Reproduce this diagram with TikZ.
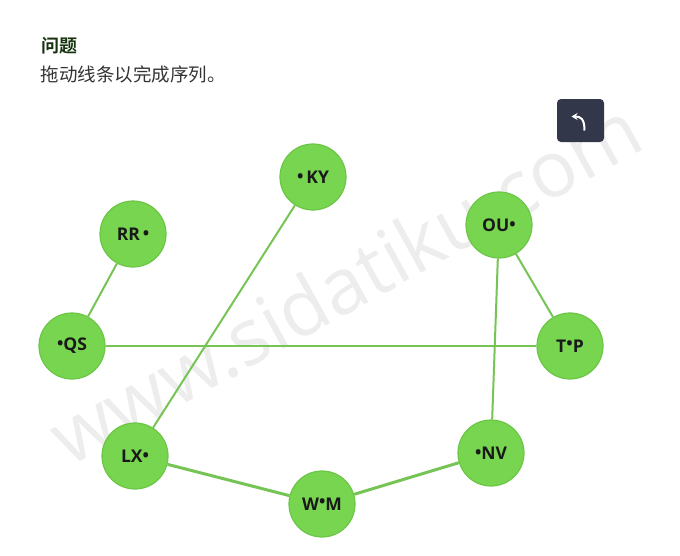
\documentclass[tikz,border=0pt]{standalone}
\usepackage{fontspec}
\setmainfont{Open Sans}
\newfontfamily\cjk{Noto Sans CJK SC}[BoldFont={Noto Sans CJK SC Bold}]
\usetikzlibrary{arrows.meta}
\definecolor{ballgreen}{HTML}{78D550}
\definecolor{balledge}{HTML}{6CC646}
\definecolor{linkgreen}{HTML}{76C455}
\definecolor{titlegreen}{HTML}{173310}
\definecolor{btngray}{HTML}{323849}
\newcommand\pin{{\fontsize{17}{17}\selectfont\raisebox{1pt}{•}}}
\tikzset{>=stealth,
  ball/.style={circle, draw=balledge, line width=1.2pt, fill=ballgreen,
    minimum size=66pt, inner sep=0pt, font=\fontsize{17.5}{17.5}\selectfont\bfseries, text=black!90},
  link/.style={draw=linkgreen, line width=2pt},
  boldlink/.style={draw=linkgreen, line width=3pt}}

\begin{document}
\begin{tikzpicture}[x=1pt, y=-1pt]
    \useasboundingbox (0,0) rectangle (680,555);
    % watermark
    \node[rotate=29, text=black!7, font=\fontsize{78}{78}\selectfont] (mark) at (345,282) {www.sidatiku.com};
    % heading
    \node[anchor=west, text=titlegreen, font=\cjk\fontsize{18}{18}\selectfont\bfseries] (title) at (38,46) {问题};
    \node[anchor=west, text=black!80, font=\cjk\fontsize{18.5}{18.5}\selectfont] (task) at (37,74) {拖动线条以完成序列。};
    % undo button
    \node[fill=btngray, rounded corners=4pt, minimum width=47pt, minimum height=43pt] (undo) at (580.5,120.5) {};
    \draw[white, line width=2pt, -{Stealth[length=6pt, width=7pt]}] ([shift={(4,10)}]undo.center) .. controls ([shift={(4,-2)}]undo.center) and ([shift={(0,-4)}]undo.center) .. ([shift={(-9,-4)}]undo.center);
    % balls
    \node[ball] (ky) at (313,177) {\pin\,KY};
    \node[ball] (rr) at (133,234) {RR\,\pin};
    \node[ball] (qs) at (72,346) {\pin QS};
    \node[ball] (ou) at (499,225) {OU\pin};
    \node[ball] (tp) at (570,346) {T\raisebox{2pt}{\pin}P};
    \node[ball] (lx) at (135,456) {LX\pin};
    \node[ball] (wm) at (322,504) {W\raisebox{2pt}{\pin}M};
    \node[ball] (nv) at (491,453) {\pin NV};
    % links
    \draw[link] (rr) -- (qs);
    \draw[link] (ky) -- (lx);
    \draw[link] (qs) -- (tp);
    \draw[link] (ou) -- (tp);
    \draw[link] (ou) -- (nv);
    \draw[boldlink] (lx) -- (wm);
    \draw[boldlink] (wm) -- (nv);
\end{tikzpicture}
\end{document}
